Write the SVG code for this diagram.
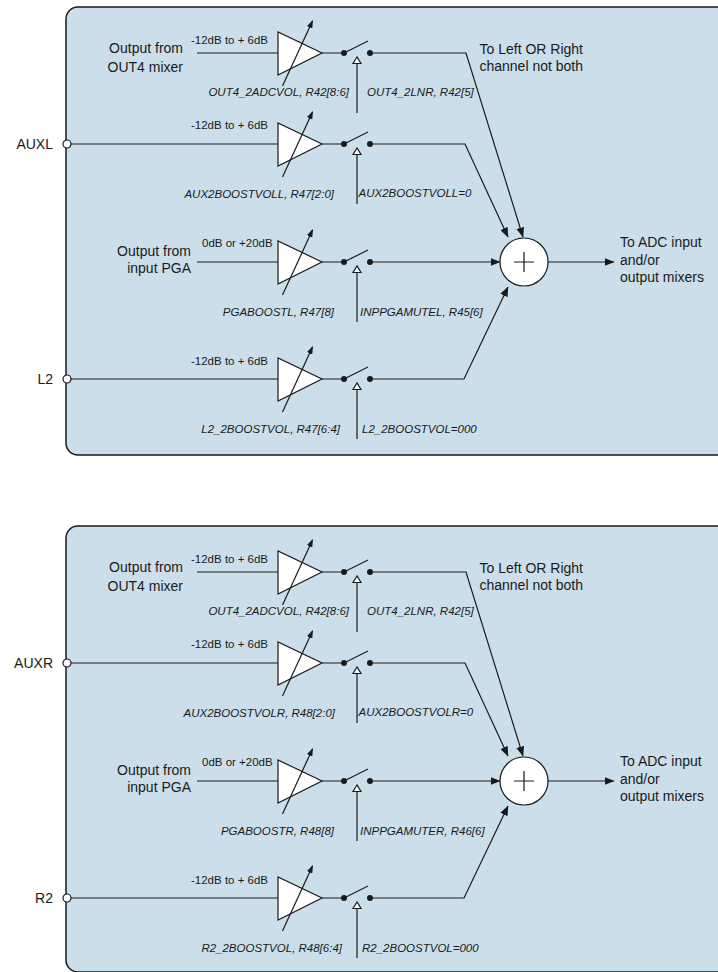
<svg xmlns="http://www.w3.org/2000/svg" xmlns:xlink="http://www.w3.org/1999/xlink" width="718" height="972" viewBox="0 0 718 972">
<style>
.panel{fill:#ccdee9;stroke:#1a1a1a;stroke-width:1.5}
.ln{fill:none;stroke:#1a1a1a;stroke-width:1.2}
.amp{fill:#fff;stroke:#1a1a1a;stroke-width:1.2}
.dot{fill:#1a1a1a}
text{font-family:"Liberation Sans",Arial,sans-serif;fill:#1a1a1a}
.big{font-size:14px}
.gain{font-size:11.5px}
.reg{font-size:11.5px;font-style:italic}
.end{text-anchor:end}
</style>
<defs>
<marker id="ah" markerUnits="userSpaceOnUse" markerWidth="10" markerHeight="8" refX="9.5" refY="4" orient="auto"><path d="M0,0 L10,4 L0,8 z" fill="#1a1a1a"/></marker>
<marker id="ahs" markerUnits="userSpaceOnUse" markerWidth="8" markerHeight="6" refX="7" refY="3" orient="auto"><path d="M0,0 L8,3 L0,6 z" fill="#1a1a1a"/></marker>
<g id="amp-shape">
<polygon class="amp" points="278,-21 278,22 322,0"/>
<line class="ln" x1="282.5" y1="33" x2="312.5" y2="-32" marker-end="url(#ahs)"/>
</g>
<g id="switch-shape">
<circle class="dot" cx="344" cy="0" r="3"/>
<line class="ln" x1="344" y1="0" x2="368" y2="-12"/>
<circle class="dot" cx="370" cy="0" r="3"/>
<line class="ln" x1="357" y1="60" x2="357" y2="10.5"/>
<polygon class="amp" points="357,4 353,10.5 361,10.5"/>
</g>
<g id="sum-shape">
<circle class="amp" cx="524" cy="262" r="24"/>
<path class="ln" d="M514,262 H534 M524,252 V272"/>
</g>
<g id="pin-shape">
<circle class="amp" cx="67" cy="0" r="4"/>
</g>
</defs>

<!-- LEFT CHANNEL -->
<g id="left-channel">
<rect id="panel-left" class="panel" x="66" y="7" width="700" height="448" rx="12"/>
<g id="in-out4-l"><text class="big end" x="183" y="53">Output from</text><text class="big end" x="183" y="71.5">OUT4 mixer</text></g>
<g id="pin-auxl"><use xlink:href="#pin-shape" y="144"/><text class="big end" x="53" y="149">AUXL</text></g>
<g id="in-pga-l"><text class="big end" x="191" y="256">Output from</text><text class="big end" x="191" y="273">input PGA</text></g>
<g id="pin-l2"><use xlink:href="#pin-shape" y="379"/><text class="big end" x="53" y="384">L2</text></g>

<g id="amp-out4-l"><use xlink:href="#amp-shape" y="53"/><text class="gain" x="191" y="44">-12dB to + 6dB</text><text class="reg end" x="349" y="96">OUT4_2ADCVOL, R42[8:6]</text></g>
<g id="amp-aux-l"><use xlink:href="#amp-shape" y="144"/><text class="gain" x="191" y="129">-12dB to + 6dB</text><text class="reg end" x="334" y="197.5">AUX2BOOSTVOLL, R47[2:0]</text></g>
<g id="amp-pga-l"><use xlink:href="#amp-shape" y="262"/><text class="gain" x="202" y="246.5">0dB or +20dB</text><text class="reg end" x="334" y="315.5">PGABOOSTL, R47[8]</text></g>
<g id="amp-l2-l"><use xlink:href="#amp-shape" y="379"/><text class="gain" x="191" y="365">-12dB to + 6dB</text><text class="reg end" x="340" y="433">L2_2BOOSTVOL, R47[6:4]</text></g>

<g id="sw-out4-l"><use xlink:href="#switch-shape" y="53"/><text class="reg" x="367" y="96">OUT4_2LNR, R42[5]</text></g>
<g id="sw-aux-l"><use xlink:href="#switch-shape" y="144"/><text class="reg" x="358.5" y="197">AUX2BOOSTVOLL=0</text></g>
<g id="sw-pga-l"><use xlink:href="#switch-shape" y="262"/><text class="reg" x="360" y="316">INPPGAMUTEL, R45[6]</text></g>
<g id="sw-l2-l"><use xlink:href="#switch-shape" y="379"/><text class="reg" x="362" y="433">L2_2BOOSTVOL=000</text></g>

<g id="note-lr-l"><text class="big end" x="583" y="53.5">To Left OR Right</text><text class="big end" x="583" y="71">channel not both</text></g>
<g id="sum-l"><use xlink:href="#sum-shape"/></g>
<g id="out-l"><text class="big" x="620" y="247">To ADC input</text><text class="big" x="620" y="264.5">and/or</text><text class="big" x="620" y="282">output mixers</text></g>
</g>

<!-- RIGHT CHANNEL -->
<g id="right-channel" transform="translate(0,519)">
<rect id="panel-right" class="panel" x="66" y="7" width="700" height="446" rx="12"/>
<g id="in-out4-r"><text class="big end" x="183" y="53">Output from</text><text class="big end" x="183" y="71.5">OUT4 mixer</text></g>
<g id="pin-auxr"><use xlink:href="#pin-shape" y="144"/><text class="big end" x="53" y="149">AUXR</text></g>
<g id="in-pga-r"><text class="big end" x="191" y="256">Output from</text><text class="big end" x="191" y="273">input PGA</text></g>
<g id="pin-r2"><use xlink:href="#pin-shape" y="379"/><text class="big end" x="53" y="384">R2</text></g>

<g id="amp-out4-r"><use xlink:href="#amp-shape" y="53"/><text class="gain" x="191" y="44">-12dB to + 6dB</text><text class="reg end" x="349" y="96">OUT4_2ADCVOL, R42[8:6]</text></g>
<g id="amp-aux-r"><use xlink:href="#amp-shape" y="144"/><text class="gain" x="191" y="129">-12dB to + 6dB</text><text class="reg end" x="335" y="197.5">AUX2BOOSTVOLR, R48[2:0]</text></g>
<g id="amp-pga-r"><use xlink:href="#amp-shape" y="262"/><text class="gain" x="202" y="246.5">0dB or +20dB</text><text class="reg end" x="334" y="315.5">PGABOOSTR, R48[8]</text></g>
<g id="amp-r2-r"><use xlink:href="#amp-shape" y="379"/><text class="gain" x="191" y="365">-12dB to + 6dB</text><text class="reg end" x="342" y="433">R2_2BOOSTVOL, R48[6:4]</text></g>

<g id="sw-out4-r"><use xlink:href="#switch-shape" y="53"/><text class="reg" x="367" y="96">OUT4_2LNR, R42[5]</text></g>
<g id="sw-aux-r"><use xlink:href="#switch-shape" y="144"/><text class="reg" x="358.5" y="197">AUX2BOOSTVOLR=0</text></g>
<g id="sw-pga-r"><use xlink:href="#switch-shape" y="262"/><text class="reg" x="360" y="316">INPPGAMUTER, R46[6]</text></g>
<g id="sw-r2-r"><use xlink:href="#switch-shape" y="379"/><text class="reg" x="362" y="433">R2_2BOOSTVOL=000</text></g>

<g id="note-lr-r"><text class="big end" x="583" y="53.5">To Left OR Right</text><text class="big end" x="583" y="71">channel not both</text></g>
<g id="sum-r"><use xlink:href="#sum-shape"/></g>
<g id="out-r"><text class="big" x="620" y="247">To ADC input</text><text class="big" x="620" y="264.5">and/or</text><text class="big" x="620" y="282">output mixers</text></g>
</g>

<!-- CONNECTORS -->
<g id="connectors">
<g id="conn-left">
<path class="ln" d="M197,53 H278"/>
<path class="ln" d="M71,144 H278"/>
<path class="ln" d="M197,262 H278"/>
<path class="ln" d="M71,379 H278"/>
<path class="ln" d="M322,53 H344 M322,144 H344 M322,262 H344 M322,379 H344"/>
<path class="ln" d="M373,53 H466 L523,237" marker-end="url(#ah)"/>
<path class="ln" d="M373,144 H465 L508,237" marker-end="url(#ah)"/>
<path class="ln" d="M373,262 H500" marker-end="url(#ah)"/>
<path class="ln" d="M373,379 H464 L508,287" marker-end="url(#ah)"/>
<path class="ln" d="M548,262 H614" marker-end="url(#ah)"/>
</g>
<g id="conn-right" transform="translate(0,519)">
<path class="ln" d="M197,53 H278"/>
<path class="ln" d="M71,144 H278"/>
<path class="ln" d="M197,262 H278"/>
<path class="ln" d="M71,379 H278"/>
<path class="ln" d="M322,53 H344 M322,144 H344 M322,262 H344 M322,379 H344"/>
<path class="ln" d="M373,53 H466 L523,237" marker-end="url(#ah)"/>
<path class="ln" d="M373,144 H465 L508,237" marker-end="url(#ah)"/>
<path class="ln" d="M373,262 H500" marker-end="url(#ah)"/>
<path class="ln" d="M373,379 H464 L508,287" marker-end="url(#ah)"/>
<path class="ln" d="M548,262 H614" marker-end="url(#ah)"/>
</g>
</g>
</svg>
